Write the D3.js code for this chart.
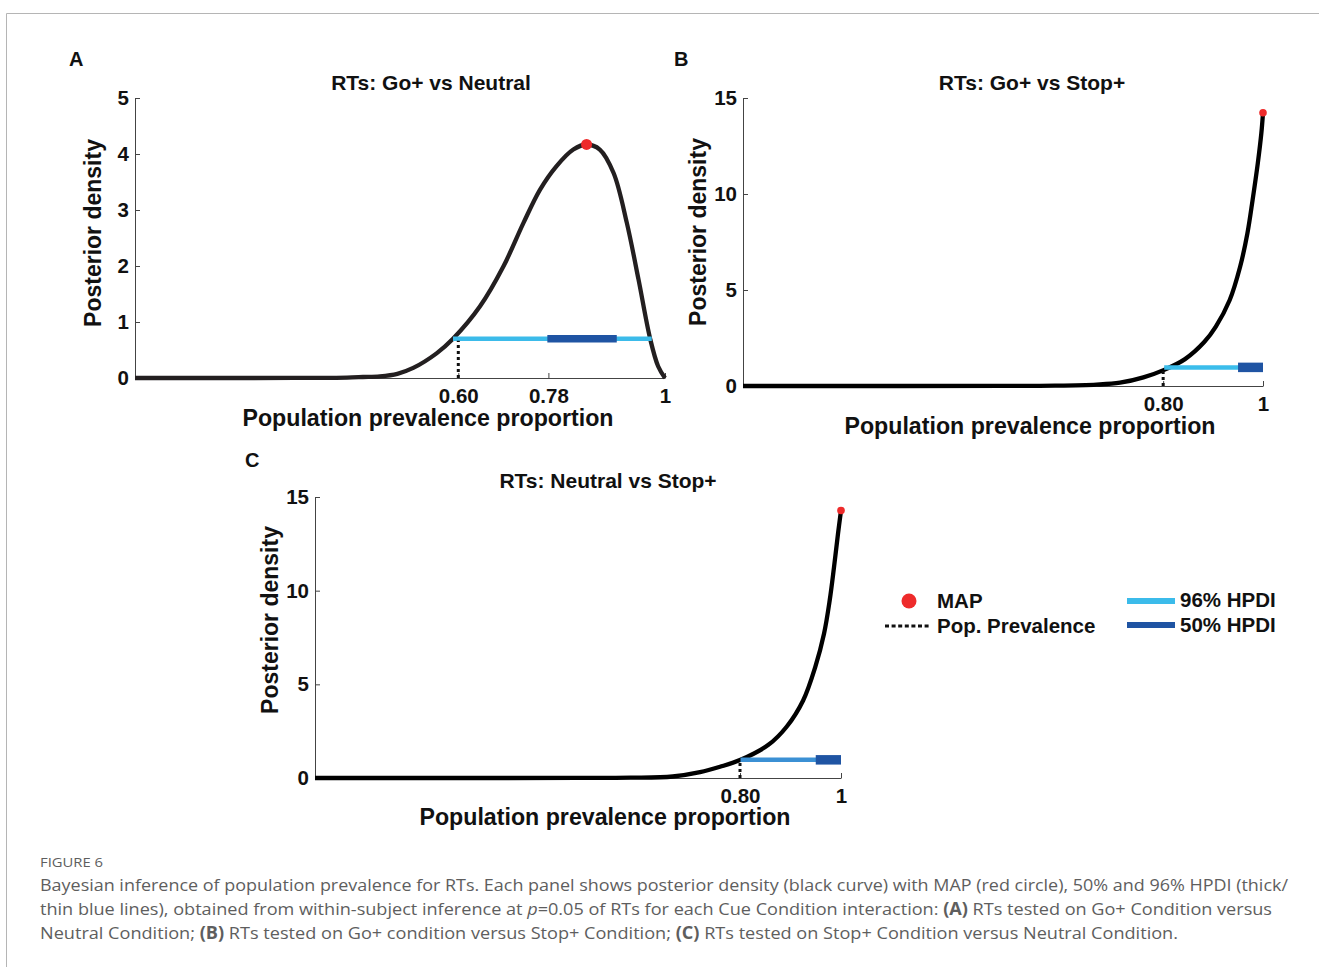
<!DOCTYPE html>
<html>
<head>
<meta charset="utf-8">
<script src="https://cdn.jsdelivr.net/npm/d3@7"></script>
<style>
  body { margin: 0; background: #fff; }
  svg { display: block; }
  .bold { font-family: "Liberation Sans", Arial, sans-serif; font-weight: bold; fill: #111; }
</style>
</head>
<body>
<svg id="fig" width="1319" height="967"></svg>
<script>
// Panel A: RTs Go+ vs Neutral
const xA = [0, 0.2, 0.3, 0.35, 0.4, 0.43, 0.462, 0.495, 0.525, 0.569, 0.60, 0.651, 0.695, 0.733, 0.764, 0.795, 0.827, 0.852, 0.877, 0.903, 0.928, 0.950, 0.972, 0.987, 1.0];
const densA = [0, 0, 0.001, 0.002, 0.008, 0.018, 0.03, 0.075, 0.18, 0.44, 0.70, 1.28, 1.99, 2.77, 3.36, 3.78, 4.08, 4.17, 4.08, 3.66, 2.77, 1.76, 0.70, 0.21, 0];
const mapA = [0.852, 4.17];
const hpdi96A = [0.60, 0.975];
const hpdi50A = [0.778, 0.909];
const barLevelA = 0.70;
const popA = 0.61;
const xTicksA = [0.61, 0.78, 1];
const xTickLabelsA = ["0.60", "0.78", "1"];
const yTicksA = [0, 1, 2, 3, 4, 5];

// Panel B: RTs Go+ vs Stop+
const xB = [0, 0.3, 0.5, 0.6, 0.68, 0.725, 0.77, 0.81, 0.85, 0.887, 0.909, 0.936, 0.956, 0.970, 0.980, 0.990, 0.9968, 1.0];
const densB = [0, 0, 0.003, 0.015, 0.07, 0.17, 0.45, 0.84, 1.40, 2.29, 3.08, 4.48, 6.21, 7.95, 9.69, 11.6, 13.16, 14.23];
const mapB = [1.0, 14.23];
const hpdi96B = [0.81, 1.0];
const hpdi50B = [0.952, 1.0];
const barLevelB = 0.97;
const popB = 0.808;
const xTicksB = [0.808, 1];
const xTickLabelsB = ["0.80", "1"];
const yTicksB = [0, 5, 10, 15];

// Panel C: RTs Neutral vs Stop+
const xC = [0, 0.3, 0.5, 0.6, 0.68, 0.732, 0.77, 0.809, 0.862, 0.897, 0.928, 0.951, 0.9677, 0.9785, 0.9867, 0.9943, 1.0];
const densC = [0, 0, 0.003, 0.015, 0.08, 0.31, 0.6, 0.97, 1.77, 2.75, 4.14, 5.92, 7.70, 9.48, 11.25, 13.04, 14.28];
const mapC = [1.0, 14.28];
const hpdi96C = [0.809, 1.0];
const hpdi50C = [0.952, 1.0];
const barLevelC = 0.97;
const popC = 0.808;
const xTicksC = [0.808, 1];
const xTickLabelsC = ["0.80", "1"];
const yTicksC = [0, 5, 10, 15];

const legendItems = ["MAP", "Pop. Prevalence", "96% HPDI", "50% HPDI"];

const svg = d3.select('#fig');

// figure frame
svg.append('path')
  .attr('d', 'M6.5,967 V13.5 H1319')
  .attr('fill', 'none')
  .attr('stroke', '#b5b5b5')
  .attr('stroke-width', 1);

function drawPanel(p) {
  const x = d3.scaleLinear().domain([0, 1]).range([p.left, p.right]);
  const y = d3.scaleLinear().domain([0, p.yMax]).range([p.bottom, p.top]);
  const g = svg.append('g');

  // axes
  const yAxis = g.append('g')
    .attr('transform', `translate(${p.left},0)`)
    .call(d3.axisLeft(y).tickValues(p.yTicks).tickFormat(d3.format('d'))
      .tickSizeInner(-5).tickSizeOuter(0).tickPadding(6));
  const xAxis = g.append('g')
    .attr('transform', `translate(0,${p.bottom})`)
    .call(d3.axisBottom(x).tickValues(p.xTicks).tickFormat((d, i) => p.xLabels[i])
      .tickSizeInner(-5).tickSizeOuter(0).tickPadding(10));
  [yAxis, xAxis].forEach(a => {
    a.select('.domain').attr('stroke', '#444');
    a.selectAll('.tick line').attr('stroke', '#444');
    a.selectAll('.tick text')
      .attr('class', 'bold')
      .style('font-size', '20.5px')
      .attr('fill', '#111');
  });

  // posterior curve
  g.append('path')
    .datum(p.xs.map((v, i) => [v, p.dens[i]]))
    .attr('fill', 'none')
    .attr('stroke', p.curveColor)
    .attr('stroke-width', 4.3)
    .attr('stroke-linejoin', 'round')
    .attr('d', d3.line().x(d => x(d[0])).y(d => y(d[1])).curve(d3.curveCatmullRom.alpha(0.5)));

  // HPDI bars
  g.append('line')
    .attr('x1', x(p.hpdi96[0])).attr('x2', x(p.hpdi96[1]))
    .attr('y1', y(p.barLevel)).attr('y2', y(p.barLevel))
    .attr('stroke', p.lightColor).attr('stroke-width', 4.5);
  g.append('line')
    .attr('x1', x(p.hpdi50[0])).attr('x2', x(p.hpdi50[1]))
    .attr('y1', y(p.barLevel)).attr('y2', y(p.barLevel))
    .attr('stroke', '#1f54a3').attr('stroke-width', p.darkWidth);

  // population prevalence (dotted)
  g.append('line')
    .attr('x1', x(p.pop)).attr('x2', x(p.pop))
    .attr('y1', y(0)).attr('y2', y(p.barLevel) + 2)
    .attr('stroke', '#111').attr('stroke-width', 3)
    .attr('stroke-dasharray', '3,3');

  // MAP
  g.append('circle')
    .attr('cx', x(p.map[0])).attr('cy', y(p.map[1]))
    .attr('r', p.mapR).attr('fill', '#ee2b2b');

  // texts
  g.append('text').attr('class', 'bold').style('font-size', '20px')
    .attr('x', p.letter[0]).attr('y', p.letter[1]).text(p.letterText);
  g.append('text').attr('class', 'bold').style('font-size', '21px')
    .attr('text-anchor', 'middle')
    .attr('x', p.titlePos[0]).attr('y', p.titlePos[1]).text(p.title);
  g.append('text').attr('class', 'bold').style('font-size', '23.2px')
    .attr('text-anchor', 'middle')
    .attr('x', p.xLabelPos[0]).attr('y', p.xLabelPos[1])
    .text('Population prevalence proportion');
  g.append('text').attr('class', 'bold').style('font-size', '23px')
    .attr('text-anchor', 'middle')
    .attr('transform', `translate(${p.yLabelPos[0]},${p.yLabelPos[1]}) rotate(-90)`)
    .text('Posterior density');
}

drawPanel({
  left: 135, right: 665, top: 98, bottom: 378, yMax: 5,
  xs: xA, dens: densA, map: mapA, hpdi96: hpdi96A, hpdi50: hpdi50A,
  barLevel: barLevelA, pop: popA, xTicks: xTicksA, xLabels: xTickLabelsA, yTicks: yTicksA,
  curveColor: '#231f20', lightColor: '#3bbbea', darkWidth: 7.5, mapR: 5.5,
  letter: [69, 66], letterText: 'A', title: 'RTs: Go+ vs Neutral', titlePos: [431, 90],
  xLabelPos: [428, 426], yLabelPos: [101, 233]
});

drawPanel({
  left: 743, right: 1263, top: 98, bottom: 386, yMax: 15,
  xs: xB, dens: densB, map: mapB, hpdi96: hpdi96B, hpdi50: hpdi50B,
  barLevel: barLevelB, pop: popB, xTicks: xTicksB, xLabels: xTickLabelsB, yTicks: yTicksB,
  curveColor: '#000', lightColor: '#3bbdeb', darkWidth: 9.5, mapR: 3.8,
  letter: [674, 66], letterText: 'B', title: 'RTs: Go+ vs Stop+', titlePos: [1032, 90],
  xLabelPos: [1030, 434], yLabelPos: [706, 232]
});

drawPanel({
  left: 315, right: 841, top: 497, bottom: 778, yMax: 15,
  xs: xC, dens: densC, map: mapC, hpdi96: hpdi96C, hpdi50: hpdi50C,
  barLevel: barLevelC, pop: popC, xTicks: xTicksC, xLabels: xTickLabelsC, yTicks: yTicksC,
  curveColor: '#000', lightColor: '#3b90d4', darkWidth: 9.5, mapR: 3.8,
  letter: [245, 467], letterText: 'C', title: 'RTs: Neutral vs Stop+', titlePos: [608, 488],
  xLabelPos: [605, 825], yLabelPos: [278, 620]
});

// legend
const leg = svg.append('g');
leg.append('circle').attr('cx', 909).attr('cy', 601).attr('r', 7.5).attr('fill', '#ee2b2b');
leg.append('line').attr('x1', 885).attr('x2', 931).attr('y1', 626).attr('y2', 626)
  .attr('stroke', '#111').attr('stroke-width', 3).attr('stroke-dasharray', '4,2.6');
leg.append('line').attr('x1', 1127).attr('x2', 1175).attr('y1', 601).attr('y2', 601)
  .attr('stroke', '#3bbbea').attr('stroke-width', 6);
leg.append('line').attr('x1', 1127).attr('x2', 1175).attr('y1', 625).attr('y2', 625)
  .attr('stroke', '#1f54a3').attr('stroke-width', 6);
[[937, 608], [937, 633], [1180, 607], [1180, 632]].forEach((pos, i) => {
  leg.append('text').attr('class', 'bold').style('font-size', '20.5px')
    .attr('x', pos[0]).attr('y', pos[1]).text(legendItems[i]);
});

// caption
const cap = svg.append('g')
  .style('font-family', '"Open Sans", "Noto Sans", sans-serif')
  .attr('fill', '#5e5e5e');
cap.append('text').attr('x', 40).attr('y', 867).style('font-size', '12.5px')
  .attr('textLength', 63).attr('lengthAdjust', 'spacingAndGlyphs').text('FIGURE 6');

const l1 = cap.append('text').attr('x', 40).attr('y', 891).style('font-size', '17px')
  .attr('textLength', 1248).attr('lengthAdjust', 'spacingAndGlyphs')
  .text('Bayesian inference of population prevalence for RTs. Each panel shows posterior density (black curve) with MAP (red circle), 50% and 96% HPDI (thick/');

const l2 = cap.append('text').attr('x', 40).attr('y', 915).style('font-size', '17px')
  .attr('textLength', 1232).attr('lengthAdjust', 'spacingAndGlyphs');
l2.append('tspan').text('thin blue lines), obtained from within-subject inference at ');
l2.append('tspan').style('font-style', 'italic').text('p');
l2.append('tspan').text('=0.05 of RTs for each Cue Condition interaction: ');
l2.append('tspan').style('font-weight', 'bold').text('(A)');
l2.append('tspan').text(' RTs tested on Go+ Condition versus');

const l3 = cap.append('text').attr('x', 40).attr('y', 939).style('font-size', '17px')
  .attr('textLength', 1138).attr('lengthAdjust', 'spacingAndGlyphs');
l3.append('tspan').text('Neutral Condition; ');
l3.append('tspan').style('font-weight', 'bold').text('(B)');
l3.append('tspan').text(' RTs tested on Go+ condition versus Stop+ Condition; ');
l3.append('tspan').style('font-weight', 'bold').text('(C)');
l3.append('tspan').text(' RTs tested on Stop+ Condition versus Neutral Condition.');
</script>
</body>
</html>
